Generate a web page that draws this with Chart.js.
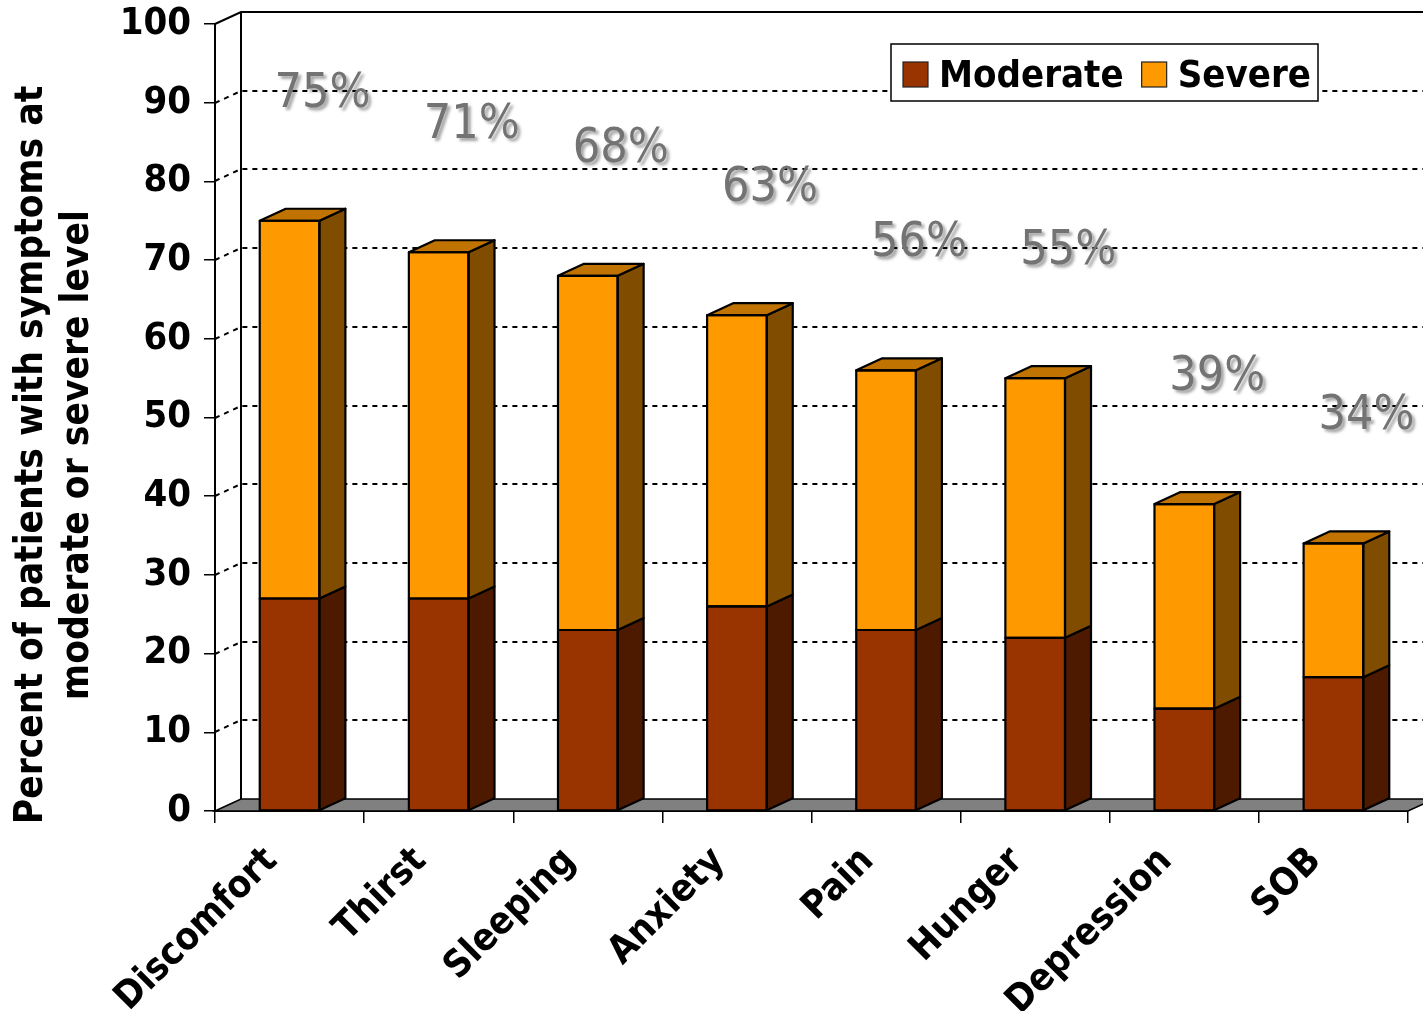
<!DOCTYPE html>
<html>
<head>
<meta charset="utf-8">
<script src="https://cdn.jsdelivr.net/npm/chart.js@4.4.1/dist/chart.umd.min.js"></script>
<style>
  html, body { margin: 0; padding: 0; background: #fff; }
  #wrap { width: 1423px; height: 1011px; position: relative; }
</style>
</head>
<body>
<div id="wrap"><canvas id="chart"></canvas></div>
<script>
// Symptom categories and percentages at each level
const categories = ['Discomfort', 'Thirst', 'Sleeping', 'Anxiety', 'Pain', 'Hunger', 'Depression', 'SOB'];
const moderate = [27, 27, 23, 26, 23, 22, 13, 17];
const severe   = [48, 44, 45, 37, 33, 33, 26, 17];
const yTicks   = [0, 10, 20, 30, 40, 50, 60, 70, 80, 90, 100];
const axisTitle = ['Percent of patients with symptoms at', 'moderate or severe level'];

const FONT = "'DejaVu Sans Condensed', 'DejaVu Sans', sans-serif";
const DEPTH_X = 26, DEPTH_Y = -12;   // 3D depth offset

// 3D look: back wall, floor, side/top faces, totals, legend, axis title
const depthPlugin = {
  id: 'depth3d',
  beforeDatasetsDraw(chart) {
    const { ctx, chartArea: a, scales: { y } } = chart;
    ctx.save();
    // dotted gridlines on the back wall with slanted connectors
    ctx.strokeStyle = '#000';
    ctx.lineWidth = 2;
    ctx.setLineDash([5, 5]);
    yTicks.forEach(v => {
      if (v === 0 || v === 100) return;
      const py = Math.round(y.getPixelForValue(v));
      ctx.beginPath();
      ctx.moveTo(a.left, py);
      ctx.lineTo(a.left + DEPTH_X, py + DEPTH_Y);
      ctx.lineTo(a.right + DEPTH_X, py + DEPTH_Y);
      ctx.stroke();
    });
    ctx.setLineDash([]);
    // wall outline
    const top = y.getPixelForValue(100), bot = y.getPixelForValue(0);
    ctx.lineWidth = 2;
    ctx.beginPath();
    ctx.moveTo(a.left, top);
    ctx.lineTo(a.left + DEPTH_X, top + DEPTH_Y);
    ctx.lineTo(a.right + DEPTH_X, top + DEPTH_Y);
    ctx.moveTo(a.left + DEPTH_X, top + DEPTH_Y);
    ctx.lineTo(a.left + DEPTH_X, bot + DEPTH_Y);
    ctx.stroke();
    // floor
    ctx.beginPath();
    ctx.moveTo(a.left, bot);
    ctx.lineTo(a.left + DEPTH_X, bot + DEPTH_Y);
    ctx.lineTo(a.right + DEPTH_X, bot + DEPTH_Y);
    ctx.lineTo(a.right, bot);
    ctx.closePath();
    ctx.fillStyle = '#808080';
    ctx.fill();
    ctx.lineWidth = 1.5;
    ctx.strokeStyle = '#000';
    ctx.stroke();

    // total labels
    const metaTop = chart.getDatasetMeta(chart.data.datasets.length - 1);
    ctx.font = "48px " + FONT;
    ctx.textAlign = 'center';
    ctx.textBaseline = 'middle';
    ctx.fillStyle = '#737373';
    ctx.shadowColor = 'rgba(0,0,0,0.35)';
    ctx.shadowOffsetX = 3;
    ctx.shadowOffsetY = 3;
    ctx.shadowBlur = 3;
    categories.forEach((c, i) => {
      const total = moderate[i] + severe[i];
      const bar = metaTop.data[i];
      ctx.fillText(total + '%', bar.x + 33, y.getPixelForValue(total + 16.1));
    });
    ctx.restore();
  },
  afterDatasetsDraw(chart) {
    const { ctx } = chart;
    const n = chart.data.datasets.length;
    ctx.save();
    ctx.strokeStyle = '#000';
    ctx.lineWidth = 2.2;
    ctx.lineJoin = 'round';
    chart.data.datasets.forEach((ds, di) => {
      const meta = chart.getDatasetMeta(di);
      meta.data.forEach(bar => {
        const half = bar.width / 2;
        const l = bar.x - half, r = bar.x + half;
        const t = Math.min(bar.y, bar.base), b = Math.max(bar.y, bar.base);
        // side face
        ctx.beginPath();
        ctx.moveTo(r, t);
        ctx.lineTo(r + DEPTH_X, t + DEPTH_Y);
        ctx.lineTo(r + DEPTH_X, b + DEPTH_Y);
        ctx.lineTo(r, b);
        ctx.closePath();
        ctx.fillStyle = ds.sideColor;
        ctx.fill();
        ctx.stroke();
        // top face only on the uppermost segment
        if (di === n - 1) {
          ctx.beginPath();
          ctx.moveTo(l, t);
          ctx.lineTo(l + DEPTH_X, t + DEPTH_Y);
          ctx.lineTo(r + DEPTH_X, t + DEPTH_Y);
          ctx.lineTo(r, t);
          ctx.closePath();
          ctx.fillStyle = ds.topColor;
          ctx.fill();
          ctx.stroke();
        }
        // front outline
        ctx.strokeRect(l, t, r - l, b - t);
      });
    });
    ctx.restore();
  },
  afterDraw(chart) {
    const { ctx } = chart;
    ctx.save();
    // legend box
    const bx = 891, by = 44, bw = 427, bh = 57;
    ctx.fillStyle = '#fff';
    ctx.fillRect(bx, by, bw, bh);
    ctx.strokeStyle = '#000';
    ctx.lineWidth = 1.5;
    ctx.strokeRect(bx, by, bw, bh);
    ctx.font = "bold 38px " + FONT;
    ctx.textBaseline = 'middle';
    ctx.textAlign = 'left';
    let x = bx + 12;
    chart.data.datasets.forEach(ds => {
      ctx.fillStyle = ds.backgroundColor;
      ctx.fillRect(x, by + 18, 25, 25);
      ctx.strokeStyle = '#222';
      ctx.lineWidth = 1.2;
      ctx.strokeRect(x, by + 18, 25, 25);
      ctx.fillStyle = '#000';
      ctx.fillText(ds.label, x + 36, by + 33);
      x += 36 + ctx.measureText(ds.label).width + 18;
    });
    // rotated y-axis title
    ctx.translate(0, 455);
    ctx.rotate(-Math.PI / 2);
    ctx.textAlign = 'center';
    ctx.fillStyle = '#000';
    ctx.font = "bold 38.5px " + FONT;
    ctx.fillText(axisTitle[0], 0, 32);
    ctx.fillText(axisTitle[1], 0, 78);
    ctx.restore();
  }
};

new Chart(document.getElementById('chart'), {
  type: 'bar',
  data: {
    labels: categories,
    datasets: [
      { label: 'Moderate', data: moderate, backgroundColor: '#993300', sideColor: '#4d1a00', topColor: '#73260a',
        borderWidth: 0, barPercentage: 0.4, categoryPercentage: 1 },
      { label: 'Severe', data: severe, backgroundColor: '#ff9900', sideColor: '#804c00', topColor: '#c07300',
        borderWidth: 0, barPercentage: 0.4, categoryPercentage: 1 }
    ]
  },
  options: {
    responsive: true,
    maintainAspectRatio: false,
    animation: false,
    layout: { padding: { top: 24, right: 15, left: 0, bottom: 0 } },
    plugins: { legend: { display: false }, tooltip: { enabled: false } },
    scales: {
      x: {
        stacked: true,
        grid: { offset: true, drawOnChartArea: false, drawTicks: true, tickLength: 12, color: '#000', lineWidth: 1.5 },
        border: { color: '#000', width: 2 },
        ticks: { color: '#000', font: { family: FONT, size: 38, weight: 'bold' }, maxRotation: 45, minRotation: 45,
                 autoSkip: false, padding: 16, labelOffset: -18 },
        afterFit(scale) { scale.height = 200; scale.paddingLeft = 0; scale.paddingRight = 0; }
      },
      y: {
        stacked: true,
        min: 0, max: 100,
        afterBuildTicks(scale) { scale.ticks = yTicks.map(v => ({ value: v })); },
        grid: { drawOnChartArea: false, drawTicks: true, tickLength: 11, color: '#000', lineWidth: 1.5 },
        border: { color: '#000', width: 2 },
        ticks: { color: '#000', font: { family: FONT, size: 38, weight: 'bold' }, padding: 13 },
        afterFit(scale) { scale.width = 215; scale.paddingTop = 0; scale.paddingBottom = 0; }
      }
    }
  },
  plugins: [depthPlugin]
});
</script>
</body>
</html>
